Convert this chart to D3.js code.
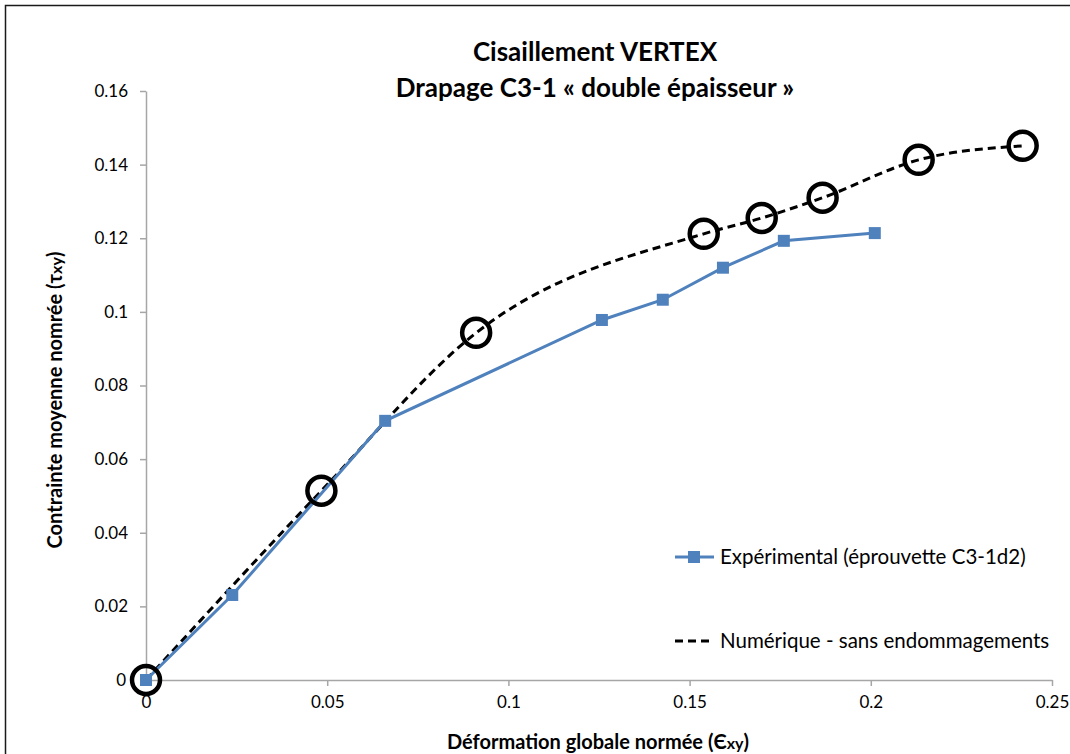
<!DOCTYPE html>
<html><head><meta charset="utf-8">
<script src="https://cdn.jsdelivr.net/npm/d3@7"></script>
<style>body{margin:0;background:#fff}svg{display:block}text{font-family:Lato,"Open Sans",sans-serif}</style>
</head><body>
<svg id="c" width="1070" height="754"></svg>
<script>
// Data
const expX = [0, 0.0238, 0.066, 0.1258, 0.1426, 0.1592, 0.176, 0.2011];
const expY = [0, 0.0231, 0.0704, 0.0978, 0.1033, 0.112, 0.1193, 0.1214];
const numX = [0, 0.0484, 0.0911, 0.1539, 0.1699, 0.1867, 0.2132, 0.2419];
const numY = [0, 0.0514, 0.0943, 0.1212, 0.1255, 0.131, 0.1413, 0.1451];
const xTicks = [0, 0.05, 0.1, 0.15, 0.2, 0.25];
const yTicks = [0, 0.02, 0.04, 0.06, 0.08, 0.1, 0.12, 0.14, 0.16];
const titleLines = ["Cisaillement VERTEX", "Drapage C3-1 « double épaisseur »"];
const seriesNames = ["Expérimental (éprouvette C3-1d2)", "Numérique - sans endommagements"];

const svg = d3.select("#c");
const blue = "#4F81BD";
svg.append("rect").attr("x",5.5).attr("y",5.5).attr("width",1200).attr("height",900)
  .attr("fill","none").attr("stroke","#1a1a1a").attr("stroke-width",1.5);

const x = d3.scaleLinear().domain([0,0.25]).range([146,1052]);
const y = d3.scaleLinear().domain([0,0.16]).range([680,91]);

const fmt = d => d===0 ? "0" : String(+d.toFixed(2));
const gx = svg.append("g").attr("transform","translate(0,680)")
  .call(d3.axisBottom(x).tickValues(xTicks).tickFormat(fmt).tickSize(6).tickSizeOuter(0).tickPadding(10));
const gy = svg.append("g").attr("transform","translate(146,0)")
  .call(d3.axisLeft(y).tickValues(yTicks).tickFormat(fmt).tickSize(6).tickSizeOuter(0).tickPadding(12));
[gx,gy].forEach(g=>{
  g.selectAll("path,line").attr("stroke","#a6a6a6").attr("stroke-width",1.5);
  g.selectAll("text").attr("font-size",17).attr("fill","#000").style("font-family","Lato, sans-serif");
});
gy.select(".tick text").attr("dx", -2);

// Title
svg.append("text").attr("x",595).attr("y",61).attr("text-anchor","middle")
  .attr("font-size",26).attr("font-weight","bold").text(titleLines[0]);
svg.append("text").attr("x",595).attr("y",97).attr("text-anchor","middle")
  .attr("font-size",26).attr("font-weight","bold").text(titleLines[1]);

// Axis titles
const xt = svg.append("text").attr("x",598).attr("y",749).attr("text-anchor","middle")
  .attr("font-size",20).attr("font-weight","bold");
xt.append("tspan").text("Déformation globale normée (Є");
xt.append("tspan").attr("font-size",16).text("xy");
xt.append("tspan").text(")");
const yt = svg.append("text").attr("transform","translate(62,400) rotate(-90)").attr("text-anchor","middle")
  .attr("font-size",20).attr("font-weight","bold");
yt.append("tspan").text("Contrainte moyenne nomrée (τ");
yt.append("tspan").attr("font-size",16).text("xy");
yt.append("tspan").text(")");

// Numerical dashed curve
const numPts = numX.map((v,i)=>[v,numY[i]]);
svg.append("path").datum(numPts)
  .attr("d", d3.line().x(d=>x(d[0])).y(d=>y(d[1])).curve(d3.curveMonotoneX))
  .attr("fill","none").attr("stroke","#000").attr("stroke-width",3).attr("stroke-dasharray","8,5");

// Experimental
const expPts = expX.map((v,i)=>[v,expY[i]]);
svg.append("path").datum(expPts)
  .attr("d", d3.line().x(d=>x(d[0])).y(d=>y(d[1])))
  .attr("fill","none").attr("stroke",blue).attr("stroke-width",3);
svg.selectAll("rect.m").data(expPts).enter().append("rect").attr("class","m")
  .attr("x",d=>x(d[0])-6).attr("y",d=>y(d[1])-6).attr("width",12).attr("height",12).attr("fill",blue);

// Circles on numerical points
svg.selectAll("circle.n").data(numPts).enter().append("circle").attr("class","n")
  .attr("cx",d=>x(d[0])).attr("cy",d=>y(d[1])).attr("r",14)
  .attr("fill","none").attr("stroke","#000").attr("stroke-width",4.5);

// Legend
svg.append("line").attr("x1",675).attr("x2",714).attr("y1",557).attr("y2",557).attr("stroke",blue).attr("stroke-width",3);
svg.append("rect").attr("x",688).attr("y",551).attr("width",12).attr("height",12).attr("fill",blue);
svg.append("text").attr("x",720).attr("y",564).attr("font-size",20.5).text(seriesNames[0]);
svg.append("line").attr("x1",675).attr("x2",712).attr("y1",641).attr("y2",641).attr("stroke","#000").attr("stroke-width",3).attr("stroke-dasharray","8,5");
svg.append("text").attr("x",720).attr("y",648).attr("font-size",20.5).text(seriesNames[1]);
</script>
</body></html>
